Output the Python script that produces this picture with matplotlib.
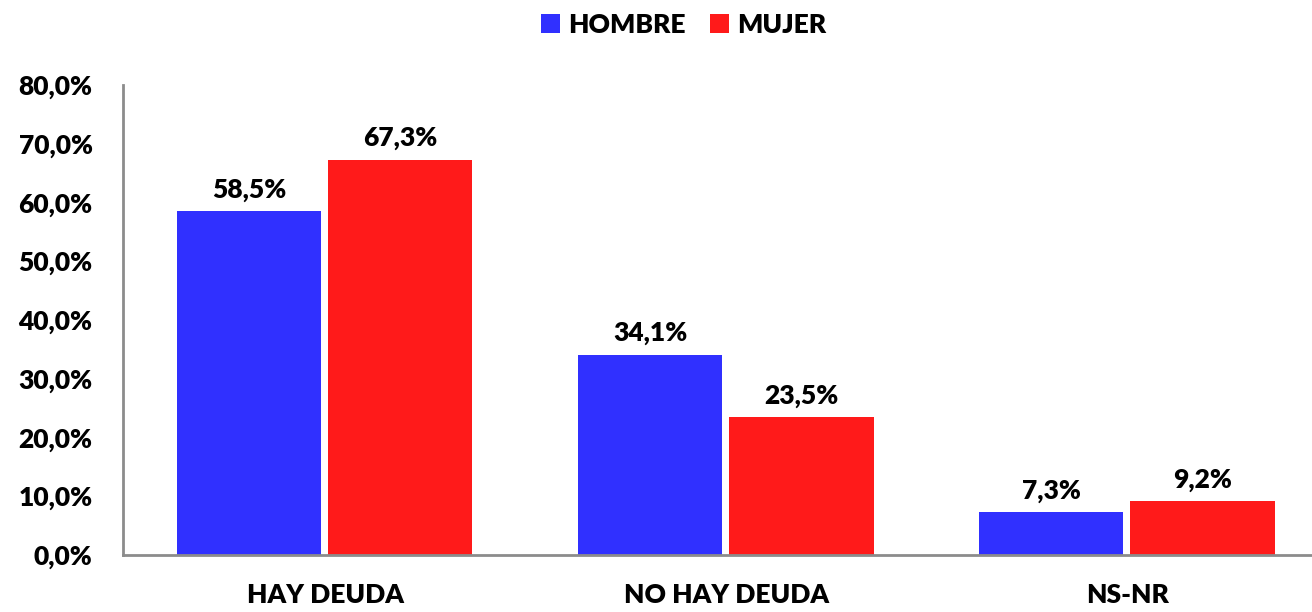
import matplotlib
matplotlib.use("Agg")
import matplotlib.pyplot as plt
import numpy as np

#values
categories = ['HAY DEUDA', 'NO HAY DEUDA', 'NS-NR']
hombre = [58.5, 34.1, 7.3]
mujer = [67.3, 23.5, 9.2]
series_names = ['HOMBRE', 'MUJER']
yticks = [0, 10, 20, 30, 40, 50, 60, 70, 80]

plt.rcParams['font.family'] = ['Lato', 'DejaVu Sans']
fw = 'heavy'
fs = 19

fig = plt.figure(figsize=(13.12, 6.12), dpi=100)
ax = fig.add_axes([0.0938, 0.0931, 0.9062, 0.768])

x = np.arange(len(categories))
w = 0.36
b1 = ax.bar(x - 0.19, hombre, w, color='#3030FF', label=series_names[0])
b2 = ax.bar(x + 0.187, mujer, w, color='#FF1A1A', label=series_names[1])

#value labels on top of bars
for bars, vals in [(b1, hombre), (b2, mujer)]:
    for bar, v in zip(bars, vals):
        ax.text(bar.get_x() + bar.get_width() / 2, v + 1.6,
                f'{v:.1f}%'.replace('.', ','), ha='center', va='bottom',
                fontsize=fs, fontweight=fw)

ax.set_ylim(0, 80)
ax.set_xlim(-0.504, 2.46)
ax.set_yticks(yticks)
ax.set_yticklabels([f'{t:.1f}%'.replace('.', ',') for t in yticks], fontsize=fs, fontweight=fw)
ax.set_xticks(x)
ax.set_xticklabels(categories, fontsize=fs, fontweight=fw)
ax.tick_params(length=0)
ax.tick_params(axis='x', pad=20)
ax.tick_params(axis='y', pad=22)

for s in ['top', 'right']:
    ax.spines[s].set_visible(False)
for s in ['left', 'bottom']:
    ax.spines[s].set_color('#8C8C8C')
    ax.spines[s].set_linewidth(2)

fig.legend(handles=[b1, b2], labels=series_names, loc='upper center',
           bbox_to_anchor=(0.521, 1.018), ncol=2, frameon=False,
           prop={'size': fs, 'weight': fw}, handlelength=0.7,
           handleheight=0.7, columnspacing=0.95, handletextpad=0.3)

fig.savefig('out.png', dpi=100)
